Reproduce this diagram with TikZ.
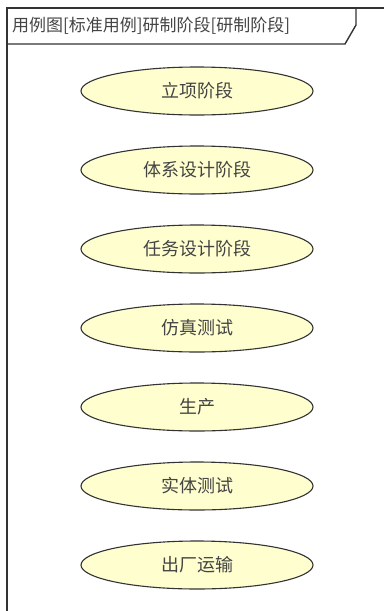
\documentclass[tikz,border=0pt]{standalone}
\usepackage{fontspec}
\setmainfont{Noto Sans CJK SC}
\usetikzlibrary{shapes.geometric}
\definecolor{ucfill}{HTML}{FEFECE}
\definecolor{ucline}{HTML}{333333}
\definecolor{txt}{HTML}{444444}
\begin{document}
\begin{tikzpicture}[x=1pt,y=-1pt,
  usecase/.style={ellipse, draw=ucline, fill=ucfill, line width=1.1pt,
    minimum width=232pt, minimum height=48pt, inner sep=0pt,
    font=\fontsize{18}{20}\selectfont, text=txt},
  frameline/.style={draw=ucline, line width=1.4pt},
  hdr/.style={anchor=west, font=\fontsize{17}{19}\selectfont, text=txt, inner sep=0pt}]
\useasboundingbox (0,0) rectangle (384,611);
% frame
\draw[frameline] (7,611) -- (7,8) -- (384,8);
\draw[frameline] (7,44) -- (345,44) -- (356,25) -- (356,8);
\node[hdr] (title) at (12,26) {用例图[标准用例]研制阶段[研制阶段]};
% use cases
\node[usecase] (u1) at (197,91) {立项阶段};
\node[usecase] (u2) at (197,170) {体系设计阶段};
\node[usecase] (u3) at (197,249) {任务设计阶段};
\node[usecase] (u4) at (197,328) {仿真测试};
\node[usecase] (u5) at (197,407) {生产};
\node[usecase] (u6) at (197,486) {实体测试};
\node[usecase] (u7) at (197,565) {出厂运输};
\end{tikzpicture}
\end{document}
